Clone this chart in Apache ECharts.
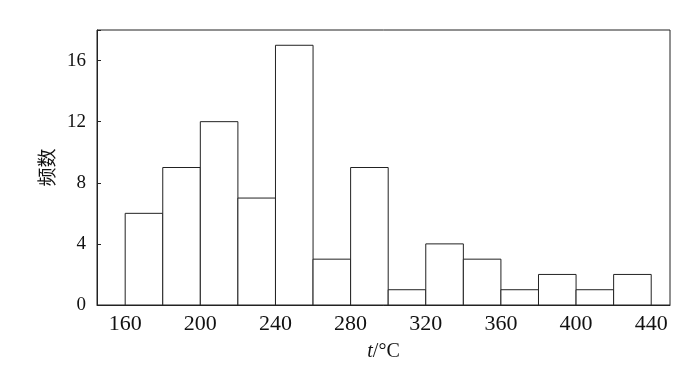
<!DOCTYPE html>
<html><head><meta charset="utf-8">
<script src="https://cdn.jsdelivr.net/npm/echarts@6/dist/echarts.min.js"></script>
<style>html,body{margin:0;padding:0;background:#fff}#c{width:700px;height:374px}</style>
</head><body><div id="c"></div>
<script>
var binStarts = [160,180,200,220,240,260,280,300,320,340,360,380,400,420];
var binWidth = 20;
var counts = [6,9,12,7,17,3,9,1,4,3,1,2,1,2];
var xTicks = [160,200,240,280,320,360,400,440];
var yTicks = [0,4,8,12,16];

var data = binStarts.map(function(s,i){return [s, s+binWidth, counts[i]];});
var chart = echarts.init(document.getElementById('c'));
chart.setOption({
  animation:false,
  backgroundColor:'#fff',
  grid:{left:97,right:30,top:30,bottom:69,show:true,borderColor:'#222',borderWidth:1,backgroundColor:'transparent'},
  xAxis:{type:'value',min:145,max:450,interval:40,
    axisLine:{show:true,lineStyle:{color:'#222'}},
    axisTick:{show:false},splitLine:{show:false},
    axisLabel:{fontFamily:'Liberation Serif',fontSize:22,color:'#111',margin:8,
      customValues:xTicks, formatter:function(v){return xTicks.indexOf(v)>=0?String(v):'';}},
    name:'{i|t}/°C',nameLocation:'middle',nameGap:37,
    nameTextStyle:{fontFamily:'Liberation Serif',fontSize:20,color:'#111',
      rich:{i:{fontStyle:'italic',fontFamily:'Liberation Serif',fontSize:20,color:'#111'}}}
  },
  yAxis:{type:'value',min:0,max:18,interval:4,
    axisLine:{show:true,lineStyle:{color:'#222'}},
    axisTick:{show:true,inside:true,length:4,lineStyle:{color:'#222'}},
    splitLine:{show:false},
    axisLabel:{fontFamily:'Liberation Serif',fontSize:19,color:'#111',margin:11,
      customValues:yTicks},
    name:'频数',nameLocation:'middle',nameRotate:90,nameGap:40,
    nameTextStyle:{fontFamily:'Noto Sans CJK SC',fontSize:19,color:'#111'}
  },
  series:[{
    type:'custom',
    data:data,
    encode:{x:[0,1],y:2},
    renderItem:function(params,api){
      var p0=api.coord([api.value(0),0]);
      var p1=api.coord([api.value(1),api.value(2)]);
      return {type:'rect',shape:{x:p0[0],y:p1[1],width:p1[0]-p0[0],height:p0[1]-p1[1]},
        style:{fill:'#fff',stroke:'#222',lineWidth:1}};
    }
  }]
});
</script></body></html>
